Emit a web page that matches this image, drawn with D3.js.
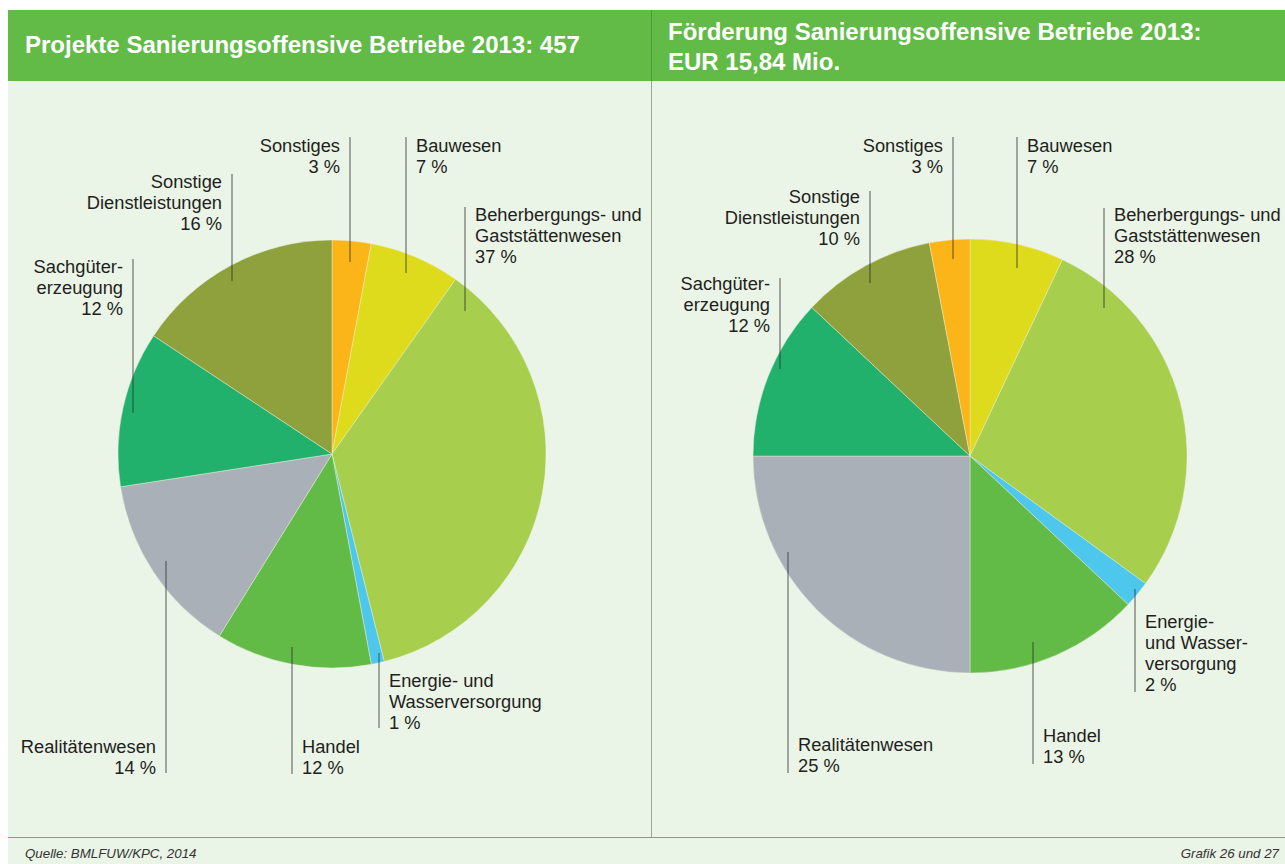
<!DOCTYPE html>
<html>
<head>
<meta charset="utf-8">
<script src="https://cdn.jsdelivr.net/npm/d3@7"></script>
<style>
  body { margin: 0; background: #fff; }
  svg { display: block; font-family: 'Liberation Sans', Arial, sans-serif; }
</style>
</head>
<body>
<svg id="chart" width="1285" height="864"></svg>
<script>
// Sanierungsoffensive Betriebe 2013 - two pies (projects / funding)

const projectCategories = ['Sonstiges', 'Bauwesen', 'Beherbergungs- und Gaststättenwesen',
    'Energie- und Wasserversorgung', 'Handel', 'Realitätenwesen', 'Sachgütererzeugung',
    'Sonstige Dienstleistungen'];
const projectShares = [3, 7, 37, 1, 12, 14, 12, 16];

const fundingCategories = ['Bauwesen', 'Beherbergungs- und Gaststättenwesen',
    'Energie- und Wasserversorgung', 'Handel', 'Realitätenwesen', 'Sachgütererzeugung',
    'Sonstige Dienstleistungen', 'Sonstiges'];
const fundingShares = [7, 28, 2, 13, 25, 12, 10, 3];

const sectorColors = {
    'Sonstiges': '#fbb519',
    'Bauwesen': '#dedb1c',
    'Beherbergungs- und Gaststättenwesen': '#a7ce4d',
    'Energie- und Wasserversorgung': '#4dc7eb',
    'Handel': '#62bb47',
    'Realitätenwesen': '#aab0b7',
    'Sachgütererzeugung': '#21b16c',
    'Sonstige Dienstleistungen': '#8fa13d'
};

// label placement, relative to the pie centre
const projectLabels = [
    { lines: ['Sonstiges'], side: 'left', lx: 18, y1: -317, y2: -192, ty: -302 },
    { lines: ['Bauwesen'], side: 'right', lx: 74, y1: -317, y2: -181, ty: -302 },
    { lines: ['Beherbergungs- und', 'Gaststättenwesen'], side: 'right', lx: 133, y1: -247, y2: -143, ty: -233 },
    { lines: ['Energie- und', 'Wasserversorgung'], side: 'right', lx: 47, y1: 199, y2: 274, ty: 233 },
    { lines: ['Handel'], side: 'right', lx: -40, y1: 193, y2: 320, ty: 299 },
    { lines: ['Realitätenwesen'], side: 'left', lx: -166, y1: 107, y2: 319, ty: 299 },
    { lines: ['Sachgüter-', 'erzeugung'], side: 'left', lx: -199, y1: -195, y2: -41, ty: -181 },
    { lines: ['Sonstige', 'Dienstleistungen'], side: 'left', lx: -100, y1: -280, y2: -173, ty: -266 }
];

const fundingLabels = [
    { lines: ['Bauwesen'], side: 'right', lx: 47, y1: -319, y2: -188, ty: -304 },
    { lines: ['Beherbergungs- und', 'Gaststättenwesen'], side: 'right', lx: 134, y1: -248, y2: -148, ty: -235 },
    { lines: ['Energie-', 'und Wasser-', 'versorgung'], side: 'right', lx: 165, y1: 133, y2: 236, ty: 172 },
    { lines: ['Handel'], side: 'right', lx: 63, y1: 186, y2: 308, ty: 286 },
    { lines: ['Realitätenwesen'], side: 'right', lx: -182, y1: 96, y2: 317, ty: 295 },
    { lines: ['Sachgüter-', 'erzeugung'], side: 'left', lx: -190, y1: -178, y2: -87, ty: -166 },
    { lines: ['Sonstige', 'Dienstleistungen'], side: 'left', lx: -100, y1: -265, y2: -173, ty: -253 },
    { lines: ['Sonstiges'], side: 'left', lx: -17, y1: -319, y2: -197, ty: -304 }
];

const svg = d3.select('#chart');
const headerGreen = '#62bb47';
const panelBg = '#eaf4e7';

// background + header
svg.append('rect').attr('x', 8).attr('y', 10).attr('width', 1277).attr('height', 854)
    .attr('fill', panelBg);
svg.append('rect').attr('x', 8).attr('y', 10).attr('width', 1277).attr('height', 71)
    .attr('fill', headerGreen);
svg.append('line').attr('x1', 651.5).attr('x2', 651.5).attr('y1', 10).attr('y2', 81)
    .attr('stroke', '#4e9a38').attr('stroke-width', 1);
svg.append('line').attr('x1', 651.5).attr('x2', 651.5).attr('y1', 81).attr('y2', 837)
    .attr('stroke', '#98a894').attr('stroke-width', 1);
svg.append('line').attr('x1', 8).attr('x2', 1285).attr('y1', 837.5).attr('y2', 837.5)
    .attr('stroke', headerGreen).attr('stroke-width', 1.2);

// titles
const titleStyle = sel => sel.attr('fill', '#fff').style('font-size', '24px').style('font-weight', 'bold');
svg.append('text').attr('x', 25).attr('y', 53).call(titleStyle)
    .text('Projekte Sanierungsoffensive Betriebe 2013: 457');
svg.append('text').attr('x', 668).attr('y', 40).call(titleStyle)
    .text('Förderung Sanierungsoffensive Betriebe 2013:');
svg.append('text').attr('x', 668).attr('y', 70).call(titleStyle)
    .text('EUR 15,84 Mio.');

// footer
svg.append('text').attr('x', 25).attr('y', 858)
    .attr('fill', '#333').style('font-size', '13.3px').style('font-style', 'italic')
    .text('Quelle: BMLFUW/KPC, 2014');
svg.append('text').attr('x', 1279).attr('y', 858).attr('text-anchor', 'end')
    .attr('fill', '#333').style('font-size', '13.3px').style('font-style', 'italic')
    .text('Grafik 26 und 27');

function drawPie(cx, cy, radius, cats, values, labels) {
    const g = svg.append('g').attr('transform', `translate(${cx},${cy})`);

    const pie = d3.pie().sort(null).value(d => d.value);
    const arcs = pie(cats.map((c, i) => ({ name: c, value: values[i] })));
    const arc = d3.arc().innerRadius(0).outerRadius(radius);

    g.selectAll('path.slice')
        .data(arcs)
        .enter()
        .append('path')
        .attr('class', 'slice')
        .attr('d', arc)
        .attr('fill', d => sectorColors[d.data.name])
        .attr('stroke', '#eef3dc')
        .attr('stroke-width', 0.6)
        .attr('stroke-opacity', 0.7);

    const lbl = g.selectAll('g.label')
        .data(arcs.map((a, i) => ({ arc: a, pos: labels[i] })))
        .enter()
        .append('g')
        .attr('class', 'label');

    lbl.append('line')
        .attr('x1', d => d.pos.lx).attr('x2', d => d.pos.lx)
        .attr('y1', d => d.pos.y1).attr('y2', d => d.pos.y2)
        .attr('stroke', '#2f2f2f')
        .attr('stroke-opacity', 0.8)
        .attr('stroke-width', 1);

    lbl.each(function (d) {
        const t = d3.select(this).append('text')
            .attr('text-anchor', d.pos.side === 'left' ? 'end' : 'start')
            .attr('fill', '#231f20')
            .style('font-size', '18.3px');
        const x = d.pos.side === 'left' ? d.pos.lx - 10 : d.pos.lx + 10;
        const lines = d.pos.lines.concat([`${d.arc.data.value} %`]);
        lines.forEach((s, i) => {
            t.append('tspan').attr('x', x).attr('y', d.pos.ty + i * 21).text(s);
        });
    });
}

drawPie(332, 454, 214, projectCategories, projectShares, projectLabels);
drawPie(970, 456, 217, fundingCategories, fundingShares, fundingLabels);
</script>
</body>
</html>
